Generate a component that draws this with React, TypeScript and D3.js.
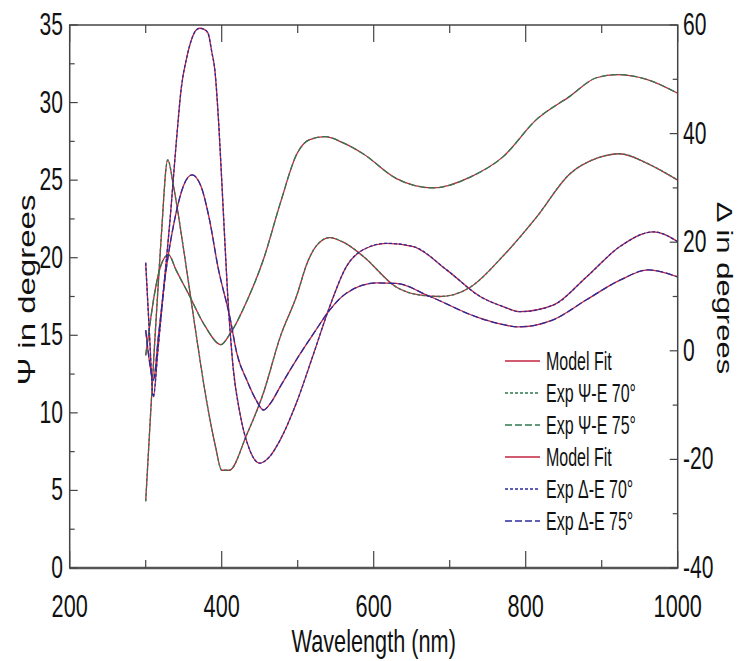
import React from "react";
import * as d3 from "d3";

// Psi curve, upper branch (Exp Psi-E 75°)
const psi75Nm = [300, 305, 310, 320, 330, 340, 356, 378, 399, 411, 433, 455, 477, 499, 515, 536, 560, 586, 630, 678, 727, 770, 814, 858, 893, 920, 959, 1000];
const psi75 = [13.7, 15.5, 17.2, 19.5, 20.2, 19.2, 17.7, 15.6, 14.4, 15.1, 17.2, 19.9, 23.5, 26.7, 27.6, 27.8, 27.4, 26.7, 25.1, 24.5, 25.2, 26.5, 28.9, 30.4, 31.6, 31.8, 31.5, 30.6];

// Psi curve, lower branch (Exp Psi-E 70°)
const psi70Nm = [300, 310, 320, 329, 337, 350, 365, 380, 392, 400, 410, 433, 455, 477, 499, 512, 525, 542, 560, 586, 630, 660, 687, 727, 770, 814, 858, 893, 924, 959, 1000];
const psi70 = [4.3, 13.0, 21.0, 26.3, 24.5, 20.5, 15.5, 10.8, 7.8, 6.3, 6.3, 8.6, 11.3, 14.9, 17.6, 19.6, 20.8, 21.3, 21.0, 20.1, 18.1, 17.6, 17.5, 18.1, 20.1, 22.6, 25.4, 26.4, 26.7, 26.1, 25.0];

// Delta curve with the tall peak (Exp Delta-E 70°)
const del70Nm = [300, 305, 310, 316, 324, 332, 340, 347, 354, 360, 366, 371, 377, 382, 387, 391, 396, 402, 408, 415, 424, 437, 450, 463, 477, 498, 521, 542, 564, 586, 617, 652, 696, 740, 771, 792, 836, 880, 924, 968, 1000];
const del70 = [16.2, 3, -8.5, 0, 12, 24.1, 38, 48.6, 54, 57.2, 59, 59.4, 59.2, 58.5, 55, 51.7, 42, 26, 10, -3, -11.5, -18.3, -20.7, -19.5, -16.4, -9.7, -0.5, 8.1, 15.5, 18.6, 19.8, 19.2, 14.9, 10.0, 8.1, 7.2, 8.4, 13.6, 19.2, 21.9, 20.1];

// Delta curve with the smaller peak (Exp Delta-E 75°)
const del75Nm = [300, 305, 310, 317, 326, 338, 350, 361, 373, 384, 395, 411, 420, 433, 445, 455, 465, 477, 498, 521, 542, 564, 604, 630, 674, 740, 771, 790, 836, 880, 924, 961, 1000];
const del75 = [3.8, -2, -5.4, 3, 14, 24.1, 30.5, 32.4, 30.2, 24.1, 15.5, 6.0, -0.5, -5.4, -9, -10.9, -9.5, -6.6, -1.7, 3.2, 7.5, 10.6, 12.5, 12.4, 10.0, 6.0, 4.8, 4.4, 5.7, 9.4, 13.0, 14.9, 13.6];

const xTicks = [200, 400, 600, 800, 1000];
const psiTicks = [0, 5, 10, 15, 20, 25, 30, 35];
const delTicks = [-40, -20, 0, 20, 40, 60];

const legendLabels = ["Model Fit", "Exp \u03A8-E 70\u00B0", "Exp \u03A8-E 75\u00B0", "Model Fit", "Exp \u0394-E 70\u00B0", "Exp \u0394-E 75\u00B0"];

const RED = "#c3243f";
const GREEN = "#2f7a4e";
const BLUE = "#2b2b9c";
const AXIS = "#444";
const FONT = "'Liberation Sans', Arial, sans-serif";

const W = 744;
const H = 661;
const L = 69.7;
const R = 677.7;
const T = 25;
const B = 568;

const x = d3.scaleLinear().domain([200, 1000]).range([L, R]);
const yPsi = d3.scaleLinear().domain([0, 35]).range([B, T]);
const yDel = d3.scaleLinear().domain([-40, 60]).range([B, T]);

const Txt = ({ x, y, size, sx = 0.7, anchor = "middle", rotate = 0, children }) => (
  <text
    transform={`translate(${x},${y}) scale(${sx},1) rotate(${rotate})`}
    fontSize={size}
    fontFamily={FONT}
    textAnchor={anchor}
    fill="#111"
  >
    {children}
  </text>
);

const pathOf = (nm, vals, y) =>
  d3
    .line()
    .x((d) => x(d[0]))
    .y((d) => y(d[1]))
    .curve(d3.curveMonotoneX)(nm.map((n, i) => [n, vals[i]]));

const App = () => {
  const series = [
    { nm: psi70Nm, v: psi70, y: yPsi, color: GREEN, dash: "3,2" },
    { nm: psi75Nm, v: psi75, y: yPsi, color: GREEN, dash: "7,3" },
    { nm: del70Nm, v: del70, y: yDel, color: BLUE, dash: "3,2" },
    { nm: del75Nm, v: del75, y: yDel, color: BLUE, dash: "7,3" },
  ];

  const legendStyles = [
    { color: RED, dash: null },
    { color: GREEN, dash: "3,2" },
    { color: GREEN, dash: "7,3" },
    { color: RED, dash: null },
    { color: BLUE, dash: "3,2" },
    { color: BLUE, dash: "7,3" },
  ];

  const minorX = d3.range(200, 1001, 100);
  const minorPsi = d3.range(0, 35.1, 2.5);
  const minorDel = d3.range(-40, 60.1, 10);

  return (
    <svg width={W} height={H} style={{ position: "absolute", left: 0, top: 0, background: "#fff" }}>
      {/* model fits (red) under the experimental dashes */}
      {series.map((s, i) => (
        <path key={"m" + i} d={pathOf(s.nm, s.v, s.y)} fill="none" stroke={RED} strokeWidth={1.3} />
      ))}
      {series.map((s, i) => (
        <path key={"e" + i} d={pathOf(s.nm, s.v, s.y)} fill="none" stroke={s.color} strokeWidth={1.3} strokeDasharray={s.dash} />
      ))}

      {/* frame */}
      <rect x={L} y={T} width={R - L} height={B - T} fill="none" stroke={AXIS} strokeWidth={1.5} />
      <line x1={L} x2={R} y1={B} y2={B} stroke="#555" strokeWidth={2.5} />

      {/* x ticks, bottom and top */}
      {minorX.map((t) => {
        const len = t % 200 === 0 ? 17 : 8;
        return (
          <g key={"xt" + t}>
            <line x1={x(t)} x2={x(t)} y1={B} y2={B - len} stroke={AXIS} strokeWidth={1.2} />
            <line x1={x(t)} x2={x(t)} y1={T} y2={T + len} stroke={AXIS} strokeWidth={1.2} />
          </g>
        );
      })}
      {minorPsi.map((t) => (
        <line key={"pt" + t} x1={L} x2={L + (t % 5 === 0 ? 8 : 5)} y1={yPsi(t)} y2={yPsi(t)} stroke={AXIS} strokeWidth={1.2} />
      ))}
      {minorDel.map((t) => (
        <line key={"dt" + t} x1={R} x2={R - (t % 20 === 0 ? 8 : 5)} y1={yDel(t)} y2={yDel(t)} stroke={AXIS} strokeWidth={1.2} />
      ))}

      {/* tick labels */}
      {xTicks.map((t) => (
        <Txt key={"xl" + t} x={x(t)} y={617} size={31}>{t}</Txt>
      ))}
      {psiTicks.map((t) => (
        <Txt key={"pl" + t} x={63} y={yPsi(t) + 10} size={31} sx={0.68} anchor="end">{t}</Txt>
      ))}
      {delTicks.map((t) => (
        <Txt key={"dl" + t} x={683} y={yDel(t) + 10} size={31} sx={0.68} anchor="start">{t}</Txt>
      ))}

      {/* axis titles */}
      <Txt x={x(600)} y={652} size={31}>Wavelength (nm)</Txt>
      <Txt x={35} y={290} size={33} rotate={-90}>{"\u03A8 in degrees"}</Txt>
      <Txt x={717} y={288} size={31} rotate={90}>{"\u0394 in degrees"}</Txt>

      {/* legend */}
      {legendLabels.map((lab, i) => {
        const cy = 361 + i * 32;
        const st = legendStyles[i];
        return (
          <g key={"lg" + i}>
            <line x1={505} x2={540} y1={cy} y2={cy} stroke={st.color} strokeWidth={1.3} strokeDasharray={st.dash || undefined} />
            <Txt x={546} y={cy + 9} size={25} sx={0.64} anchor="start">{lab}</Txt>
          </g>
        );
      })}
    </svg>
  );
};

export default App;
